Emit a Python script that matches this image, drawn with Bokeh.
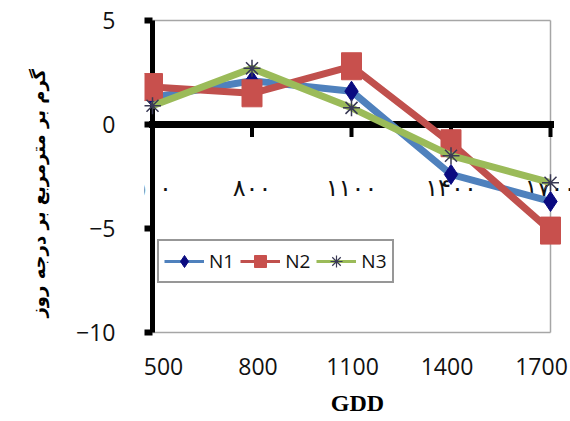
from bokeh.plotting import figure
from bokeh.models import Range1d, LinearAxis, FixedTicker, Legend, LegendItem, Title
from bokeh.core.properties import value
from bokeh.embed import file_html
from bokeh.resources import INLINE

# ---------------- data ----------------
gdd = [500, 800, 1100, 1400, 1700]
gdd_fa = ["۵۰۰", "۸۰۰", "۱۱۰۰", "۱۴۰۰", "۱۷۰۰"]
n1 = [1.3, 2.1, 1.6, -2.4, -3.7]
n2 = [1.8, 1.5, 2.8, -0.9, -5.1]
n3 = [0.9, 2.7, 0.8, -1.5, -2.8]
series_names = ["N1", "N2", "N3"]
y_ticks = [-10, -5, 0, 5]
y_title = "گرم بر مترمربع بر درجه روز"
x_title = "GDD"

# ---------------- layout (pixels) ----------------
W, H = 570, 421
B_LEFT, B_RIGHT, B_TOP, B_BOTTOM = 144, 0, 14, 83
FRAME_W = W - B_LEFT - B_RIGHT
FRAME_H = H - B_TOP - B_BOTTOM
PAD_L, PAD_R = 8, 20          # frame edge -> first / last category
PAD_T, PAD_B = 6, 6
LBL_L, LBL_R = 19, 29         # bottom tick label insets

x0, x1 = gdd[0], gdd[-1]
y0, y1 = min(y_ticks), max(y_ticks)
pxu = (FRAME_W - PAD_L - PAD_R) / (x1 - x0)
pyu = (FRAME_H - PAD_T - PAD_B) / (y1 - y0)
lxu = (FRAME_W - LBL_L - LBL_R) / (x1 - x0)

p = figure(width=W, height=H,
           x_range=Range1d(x0 - PAD_L / pxu, x1 + PAD_R / pxu),
           y_range=Range1d(y0 - PAD_B / pyu, y1 + PAD_T / pyu),
           output_backend="svg", toolbar_location=None,
           x_axis_location=None,
           min_border_left=B_LEFT, min_border_right=B_RIGHT,
           min_border_top=B_TOP, min_border_bottom=B_BOTTOM)
p.extra_x_ranges = {"lbl": Range1d(x0 - LBL_L / lxu, x1 + LBL_R / lxu)}
p.outline_line_color = None
p.grid.grid_line_color = None
p.background_fill_color = "white"
p.border_fill_color = "white"

TICK_FONT = "Open Sans"

# y axis
ya = p.yaxis[0]
ya.ticker = FixedTicker(ticks=y_ticks)
ya.axis_line_color = None
ya.major_tick_in = 8
ya.major_tick_out = 0
ya.major_tick_line_width = 6
ya.major_tick_line_color = "black"
ya.minor_tick_line_color = None
ya.major_label_standoff = 29
ya.major_label_text_font = TICK_FONT
ya.major_label_text_font_size = "23px"
ya.major_label_text_color = "#111111"

# bottom axis (tick labels + title)
xa = LinearAxis(x_range_name="lbl", ticker=FixedTicker(ticks=gdd))
xa.axis_line_color = None
xa.major_tick_in = 0
xa.major_tick_out = 0
xa.major_tick_line_color = None
xa.minor_tick_line_color = None
xa.major_label_standoff = 19
xa.major_label_text_font = TICK_FONT
xa.major_label_text_font_size = "23px"
xa.major_label_text_color = "#111111"
xa.axis_label = x_title
xa.axis_label_text_font = "Liberation Serif"
xa.axis_label_text_font_style = "bold"
xa.axis_label_text_font_size = "24px"
xa.axis_label_text_color = "black"
xa.axis_label_standoff = 12
p.add_layout(xa, "below")

# y title
p.add_layout(Title(text=y_title, align="left", offset=21, vertical_align="top",
                   standoff=46,
                   text_font="DejaVu Sans", text_font_style="bold",
                   text_font_size="18px", text_color="black"), "left")

# plot-area border (thin gray)
p.segment(x0=[x0, x0, x1], y0=[y1, y0, y0], x1=[x1, x1, x1], y1=[y1, y0, y1],
          line_color="#A6A6A6", line_width=1.5)

# Persian category labels under zero line
p.text(x=gdd, y=[-3.05] * len(gdd), text=gdd_fa,
       text_font=value("DejaVu Sans"), text_font_size="24px",
       text_align="center", text_baseline="middle", text_color="#111111")

# zero axis with ticks
p.segment(x0=x0, y0=0, x1=x1, y1=0, line_color="black", line_width=7, line_cap="square")
p.segment(x0=gdd, y0=[0] * len(gdd), x1=gdd, y1=[-0.6] * len(gdd),
          line_color="black", line_width=4)
# left vertical axis
p.segment(x0=x0, y0=y0, x1=x0, y1=y1, line_color="black", line_width=5)

line_colors = ["#4F81BD", "#C0504D", "#9BBB59"]
N1_MK, N2_MK, N3_MK = "#0A0A80", "#C8504D", "#3A3A55"

# N1
p.line(gdd, n1, line_color=line_colors[0], line_width=7, line_join="round")
p.scatter(gdd, n1, marker="diamond", size=20, fill_color=N1_MK, line_color=N1_MK)
# N2
p.line(gdd, n2, line_color=line_colors[1], line_width=7, line_join="round")
p.rect(gdd, n2, width=20, height=27, width_units="screen", height_units="screen",
       fill_color=N2_MK, line_color=N2_MK)
# N3
p.line(gdd, n3, line_color=line_colors[2], line_width=7, line_join="round")
p.scatter(gdd, n3, marker="asterisk", size=17, line_color=N3_MK, line_width=1.5)

# legend proxies (not drawn in the plot area)
nan = float("nan")
markers = [("diamond", N1_MK, N1_MK), ("square", N2_MK, N2_MK), ("asterisk", None, N3_MK)]
items = []
for name, lc, (mk, fc, mc) in zip(series_names, line_colors, markers):
    lr = p.line(x=[nan], y=[nan], line_color=lc, line_width=3)
    if fc is None:
        mr = p.scatter(x=[nan], y=[nan], marker=mk, line_color=mc, line_width=1.2)
    else:
        mr = p.scatter(x=[nan], y=[nan], marker=mk, fill_color=fc, line_color=mc)
    items.append(LegendItem(label=name, renderers=[lr, mr]))

legend = Legend(items=items, location=(13, 55), orientation="horizontal",
                glyph_width=40, glyph_height=30, label_standoff=5, spacing=6,
                padding=5, margin=0, label_height=30,
                label_text_font=TICK_FONT, label_text_font_size="19px",
                label_text_color="#111111",
                border_line_color="#303030", border_line_width=2,
                background_fill_color="white", background_fill_alpha=1.0)
p.add_layout(legend)

open("out.html", "w").write(file_html(p, INLINE))
